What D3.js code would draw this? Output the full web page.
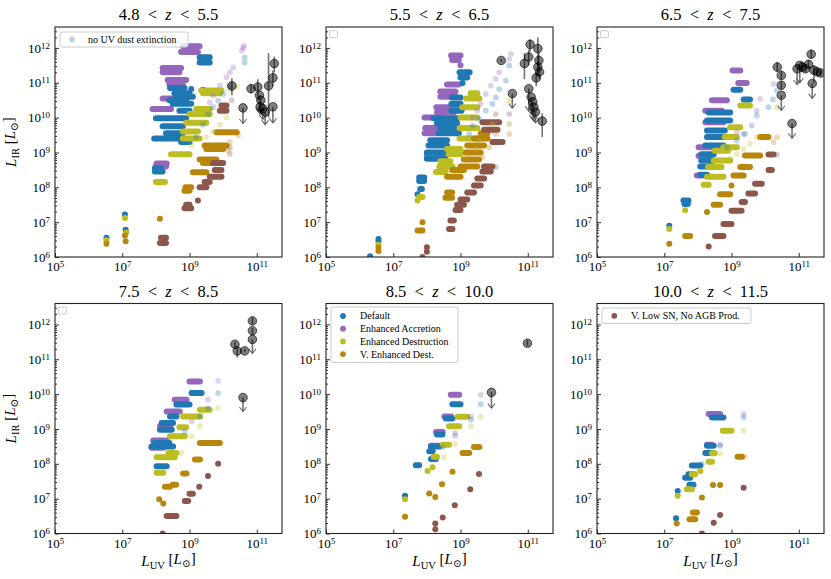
<!DOCTYPE html>
<html>
<head>
<meta charset="utf-8">
<script src="https://cdn.jsdelivr.net/npm/d3@7"></script>
<style>
  body { margin: 0; background: #fff; }
  svg text { font-family: "Liberation Serif", "DejaVu Serif", serif; }
</style>
</head>
<body>
<div id="wrapper"></div>
<script>
// redshift bins, one per panel
const zLow  = ["4.8", "5.5", "6.5", "7.5", "8.5", "10.0"];
const zHigh = ["5.5", "6.5", "7.5", "8.5", "10.0", "11.5"];

// log10 tick positions
const xTicks = [5, 7, 9, 11];
const yTicks = [6, 7, 8, 9, 10, 11, 12];
const xDomain = [5, 11.75];
const yDomain = [6, 12.6];

const seriesNames = ["Default", "Enhanced Accretion", "Enhanced Destruction", "V. Enhanced Dest.", "V. Low SN, No AGB Prod."];

// model runs: [panel, log L_UV start, log L_UV end, log L_IR]
const defaultRuns = [
  [1,6.53,6.53,6.55],[1,7.08,7.08,7.22],[1,7.1,7.1,6.78],[1,7.97,8.2,8.45],[1,7.97,8.15,8.55],
  [1,8.42,8.85,10.85],[1,9.05,9.05,10.82],[1,9.4,9.4,10.8],[1,8.6,9.1,10.6],[1,8.5,9.05,10.4],
  [1,8.7,9.0,10.2],[1,8.0,8.9,9.98],[1,8.2,8.8,9.75],[1,8.3,8.8,9.55],[1,7.95,8.7,9.4],
  [1,8.75,9.0,9.3],[1,9.3,9.6,11.73],[1,9.3,9.6,11.58],[1,8.55,9.0,10.7],[1,8.4,8.9,10.5],
  [2,6.31,6.31,6.02],[2,6.56,6.56,6.52],[2,6.56,6.56,6.44],[2,7.77,7.92,8.28],[2,7.77,7.92,8.18],
  [2,7.72,7.72,7.8],[2,7.8,7.85,7.95],[2,8.0,8.55,8.82],[2,8.0,8.5,9.0],[2,8.05,8.6,9.2],
  [2,8.1,8.6,9.35],[2,8.35,8.95,9.55],[2,8.4,8.95,9.7],[2,8.3,8.9,9.84],[2,8.2,8.9,9.98],
  [2,8.73,9.03,10.2],[2,8.73,9.0,10.4],[2,8.75,9.0,10.58],[2,8.97,9.27,11.3],[2,9.0,9.2,11.15],
  [2,9.06,9.06,10.99],
  [3,7.15,7.15,6.9],[3,7.57,7.72,7.62],[3,7.6,7.7,7.52],[3,8.07,8.27,8.36],[3,8.07,8.47,8.6],
  [3,8.1,8.45,8.77],[3,8.1,8.47,8.95],[3,8.22,8.76,9.2],[3,8.27,8.86,9.44],[3,8.27,8.8,9.63],
  [3,8.27,8.96,9.92],[3,8.32,8.96,10.15],[3,9.06,9.26,10.8],[3,9.36,9.55,10.52],
  [4,8.02,8.32,7.93],[4,7.87,8.51,8.5],[4,7.95,8.4,8.6],[4,8.12,8.47,8.98],[4,8.17,8.51,9.17],
  [4,8.42,8.61,9.36],[4,8.61,9.0,9.7],[4,9.06,9.36,10.03],
  [5,7.35,7.35,7.08],[5,7.67,7.77,7.96],[5,8.07,8.17,8.36],[5,8.12,8.27,8.14],[5,8.12,8.37,8.5],
  [5,8.3,8.46,8.84],[5,8.56,8.76,9.3],[5,8.76,9.0,9.71],
  [6,7.35,7.35,6.44],[6,7.4,7.4,7.22],[6,7.62,7.77,7.6],[6,7.72,7.87,7.7],[6,7.75,7.87,7.4],
  [6,7.82,8.07,7.95],[6,8.22,8.47,8.31],[6,8.27,8.47,8.52],[6,8.42,8.76,9.33]
];

const accretionRuns = [
  [1,8.8,9.3,12.05],[1,8.75,9.25,11.88],[1,8.2,8.75,11.42],[1,8.2,8.7,11.3],[1,8.35,8.9,11.08],
  [1,8.4,8.8,10.95],[1,8.2,8.9,10.55],[1,7.9,8.45,10.25],[1,8.02,8.32,8.68],[1,8.0,8.3,8.6],
  [2,8.72,9.0,11.78],[2,8.75,8.95,11.65],[2,9.0,9.0,11.5],[2,8.6,8.95,10.95],[2,8.4,8.85,10.75],
  [2,8.4,8.85,10.6],[2,8.28,8.88,10.3],[2,8.3,8.8,10.15],[2,7.93,8.37,10.0],[2,7.95,8.3,9.7],
  [2,7.93,8.3,9.55],[2,8.0,8.58,8.95],[2,8.0,8.5,8.85],
  [3,9.03,9.26,11.35],[3,9.2,9.45,10.99],[3,8.42,8.86,10.5],[3,8.22,8.71,10.2],[3,8.22,8.76,9.87],
  [3,8.02,8.47,9.15],[3,8.02,8.4,8.9],[3,7.97,8.27,8.34],
  [4,7.87,8.22,8.46],[4,7.92,8.32,8.67],[4,8.12,8.42,9.08],[4,8.32,8.71,9.5],[4,8.56,8.91,9.84],
  [4,9.0,9.31,10.36],
  [5,8.12,8.37,8.52],[5,8.27,8.47,8.91],[5,8.52,8.72,9.36],[5,8.71,8.96,9.98],
  [6,8.32,8.66,9.43],[6,8.27,8.42,8.55]
];

const destructionRuns = [
  [1,6.53,6.53,6.48],[1,7.08,7.08,7.12],[1,7.12,7.12,6.7],[1,8.0,8.27,8.15],[1,8.45,9.0,8.95],
  [1,8.8,9.3,9.4],[1,8.8,9.25,9.6],[1,8.9,9.5,9.85],[1,9.0,9.6,10.1],[1,9.2,9.6,10.25],
  [1,9.35,9.95,10.78],[1,9.4,9.9,10.7],
  [2,6.56,6.56,6.35],[2,7.77,7.87,7.72],[2,7.72,7.72,7.62],[2,8.27,8.56,8.44],[2,8.37,8.76,8.6],
  [2,8.4,8.7,8.75],[2,8.65,9.0,8.95],[2,8.6,9.0,9.1],[2,8.97,9.56,9.4],[2,8.97,9.5,9.7],
  [2,9.0,9.5,10.0],[2,9.05,9.5,10.3],[2,9.17,9.56,10.55],[2,9.3,9.5,10.7],
  [3,7.15,7.15,6.8],[3,7.62,7.62,7.34],[3,8.17,8.32,8.07],[3,8.27,8.76,8.3],[3,8.3,8.7,8.58],
  [3,8.47,8.96,8.77],[3,8.5,8.9,9.05],[3,8.76,9.16,9.15],[3,8.8,9.16,9.44],[3,8.96,9.26,9.72],
  [3,9.26,9.55,10.35],
  [4,8.02,8.22,7.74],[4,8.02,8.56,8.19],[4,8.37,8.61,8.31],[4,8.42,8.86,8.79],[4,8.7,8.9,9.05],
  [4,8.81,9.31,9.36],[4,9.31,9.6,9.55],
  [5,7.35,7.35,6.98],[5,8.02,8.02,7.79],[5,8.17,8.17,7.9],[5,8.2,8.3,8.2],[5,8.47,8.66,8.55],
  [5,8.66,8.96,9.08],[5,8.91,9.2,9.35],
  [6,7.4,7.4,7.08],[6,7.67,7.82,7.27],[6,7.82,7.92,7.7],[6,8.07,8.07,7.79],[6,8.32,8.42,8.06],
  [6,8.42,8.5,8.3],[6,8.74,9.0,8.95]
];

const vEnhancedRuns = [
  [1,6.53,6.53,6.38],[1,7.08,7.08,6.62],[1,7.1,7.1,6.45],[1,8.12,8.12,7.1],[1,8.17,8.17,6.42],
  [1,8.88,9.05,8.0],[1,8.85,9.0,7.9],[1,9.1,9.5,8.43],[1,9.3,9.8,8.8],[1,9.4,9.9,8.7],
  [1,9.45,10.1,9.2],[1,9.5,10.0,9.1],[1,9.8,10.4,9.58],
  [2,6.56,6.56,6.17],[2,6.56,6.56,6.27],[2,7.72,7.87,6.76],[2,7.87,7.87,7.0],[2,8.6,8.75,7.85],
  [2,8.55,8.75,7.7],[2,8.6,9.0,8.3],[2,8.75,9.1,8.5],[2,9.0,9.5,8.6],[2,9.1,9.55,8.8],
  [2,9.15,9.6,9.0],[2,9.2,9.7,9.2],[2,9.4,9.8,9.4],[2,9.6,9.8,9.55],
  [3,7.15,7.15,6.38],[3,7.62,7.77,6.6],[3,8.27,8.27,7.29],[3,8.47,8.66,7.5],[3,8.66,8.96,7.8],
  [3,9.0,9.0,8.05],[3,9.06,9.36,8.34],[3,9.26,9.55,8.58],[3,9.4,9.85,8.91],[3,9.85,10.1,9.44],
  [4,8.1,8.1,6.98],[4,8.22,8.22,6.86],[4,8.27,8.42,7.34],[4,8.5,8.6,7.4],[4,8.81,8.91,7.72],
  [4,9.16,9.31,8.12],[4,9.31,9.9,8.6],
  [5,7.35,7.35,6.48],[5,8.07,8.07,7.15],[5,8.25,8.25,7.05],[5,8.45,8.45,7.41],[5,8.76,8.76,7.77],
  [5,9.06,9.26,8.31],[5,9.4,9.55,8.48],
  [6,7.37,7.37,6.29],[6,7.75,7.92,6.41],[6,7.85,7.97,6.6],[6,8.12,8.12,7.03],[6,8.45,8.45,7.39],
  [6,8.66,8.66,7.39],[6,9.18,9.31,8.2]
];

const lowSNRuns = [
  [1,8.12,8.3,6.4],[1,8.15,8.3,6.55],[1,8.85,9.05,7.4],[1,8.9,9.0,7.5],[1,9.25,9.25,7.62],
  [1,9.3,9.5,8.0],[1,9.45,9.6,8.15],[1,9.6,9.95,8.3],[1,9.75,9.95,8.5],[1,9.7,10.0,8.7],
  [1,9.9,10.1,10.2],[1,9.95,10.1,10.35],
  [2,7.87,7.87,6.0],[2,8.0,8.0,6.28],[2,8.0,8.0,6.15],[2,8.66,8.76,6.8],[2,8.7,8.8,7.05],
  [2,8.85,9.0,7.35],[2,8.9,9.1,7.5],[2,9.0,9.2,7.65],[2,9.2,9.4,7.85],[2,9.4,9.6,8.05],
  [2,9.5,9.7,8.25],[2,9.65,9.9,8.45],[2,9.7,9.95,8.6],[2,9.65,10.15,9.87],[2,9.7,10.1,9.65],
  [2,9.95,10.25,9.3],
  [3,8.32,8.32,6.3],[3,8.51,8.76,6.6],[3,8.76,9.0,6.95],[3,9.0,9.3,7.33],[3,9.3,9.4,7.58],
  [3,9.5,9.7,7.82],[3,9.7,9.9,8.1],[3,10.1,10.2,8.5],[3,10.1,10.25,8.94],
  [4,8.2,8.2,6.0],[4,8.32,8.61,6.5],[4,8.86,8.96,6.93],[4,9.0,9.1,7.14],[4,9.29,9.29,7.34],
  [4,9.55,9.55,7.65],[4,9.85,9.85,8.0],
  [5,8.25,8.25,6.29],[5,8.25,8.25,6.12],[5,8.47,8.47,6.46],[5,8.83,8.83,6.81],[5,9.29,9.29,7.27],
  [5,9.55,9.55,7.71],
  [6,8.12,8.12,6.0],[6,8.47,8.47,6.31],[6,8.66,8.66,6.53],[6,9.36,9.36,7.31]
];

// no UV dust extinction: [panel, series index, log L_UV, log L_IR]
const noDustPoints = [
  [1,1,10.55,11.92],[1,1,10.6,12.0],[1,1,10.62,12.06],[1,1,10.3,11.44],[1,1,10.2,11.3],[1,1,10.1,11.16],
  [1,1,9.9,10.92],[1,1,9.7,10.63],[1,1,9.6,10.44],
  [1,0,10.64,11.73],[1,0,10.64,11.58],[1,0,10.2,10.9],[1,0,10.0,10.68],[1,0,9.85,10.49],[1,0,9.7,10.3],
  [1,0,9.55,10.1],[1,0,9.4,9.8],[1,0,9.2,9.44],
  [1,2,10.4,10.89],[1,2,10.2,10.82],[1,2,10.1,10.0],[1,2,9.9,9.8],[1,2,9.7,9.6],[1,2,9.5,9.44],[1,2,9.06,9.2],
  [1,3,10.4,9.58],[1,3,10.45,9.5],[1,3,10.2,9.3],[1,3,10.15,9.06],
  [1,4,10.2,9.15],[1,4,10.2,8.96],[1,4,10.25,10.5],
  [2,1,10.5,11.83],[2,1,10.45,11.68],[2,1,10.15,11.3],[2,1,10.05,11.11],[2,1,9.9,10.92],[2,1,9.75,10.68],
  [2,1,9.6,10.39],[2,1,9.5,10.2],[2,1,9.36,10.0],
  [2,0,10.45,11.49],[2,0,10.35,11.06],[2,0,10.15,10.82],[2,0,10.05,10.58],[2,0,9.95,10.39],[2,0,9.75,10.2],
  [2,0,9.55,9.96],[2,0,9.36,9.77],[2,0,9.26,9.53],
  [2,2,10.45,10.49],[2,2,9.95,9.82],[2,2,9.55,9.34],[2,2,9.45,9.1],[2,2,9.2,8.9],
  [2,3,10.45,9.82],[2,3,10.45,9.53],[2,3,10.05,9.53],[2,3,9.85,9.15],[2,3,9.65,8.87],
  [2,4,10.05,10.1],[2,4,10.05,8.58],[2,4,10.45,10.1],
  [3,1,10.25,10.97],[3,1,9.85,10.54],[3,1,9.75,10.2],[3,1,9.36,9.53],[3,1,9.16,9.58],
  [3,0,10.35,10.78],[3,0,10.23,10.52],[3,0,10.1,10.3],[3,0,9.75,10.06],[3,0,9.6,9.77],[3,0,9.4,9.53],
  [3,0,9.16,9.34],[3,0,8.86,9.15],
  [3,2,10.35,10.3],[3,2,9.75,9.44],[3,2,9.55,9.25],[3,2,9.36,9.1],[3,2,9.16,8.96],[3,2,8.96,8.82],
  [3,3,10.35,9.44],[3,3,10.25,9.3],
  [3,4,10.35,8.94],
  [4,1,9.85,10.38],[4,1,9.55,9.84],[4,1,9.06,9.22],
  [4,0,9.85,10.03],[4,0,9.55,9.6],[4,0,9.31,9.36],[4,0,8.86,8.93],[4,0,8.51,8.5],
  [4,2,9.85,9.6],[4,2,9.31,9.08],[4,2,9.06,8.79],[4,2,8.76,8.31],
  [4,3,9.9,8.6],
  [5,1,9.6,9.98],[5,1,9.31,9.36],[5,1,8.84,8.89],
  [5,0,9.6,9.71],[5,0,9.31,9.27],[5,0,8.84,8.81],[5,0,8.47,8.48],
  [5,2,9.6,9.36],[5,2,9.31,9.08],[5,2,8.84,8.57],[5,2,8.5,8.19],
  [5,3,9.6,8.48],
  [6,1,9.36,9.43],[6,1,8.66,8.55],
  [6,0,9.36,9.33],[6,0,8.66,8.52],[6,0,8.12,8.0],
  [6,2,9.36,8.95],[6,2,8.66,8.3],
  [6,3,9.39,8.2]
];

// observed galaxies: [panel, log L_UV, log L_IR, low, high, upper limit]
const observed = [
  [1,10.26,10.91,10.64,11.13,0],[1,10.59,10.28,9.83,10.28,1],[1,10.83,10.83,10.7,10.95,0],
  [1,11.03,10.88,10.6,11.1,0],[1,11.08,10.64,10.15,10.64,1],[1,11.12,10.5,10.1,10.5,1],
  [1,11.1,10.31,10.1,10.31,1],[1,11.18,10.26,9.95,10.26,1],[1,11.25,10.16,9.8,10.16,1],
  [1,11.35,10.91,10.0,11.85,0],[1,11.52,11.55,11.3,11.75,0],[1,11.48,11.14,10.9,11.35,0],
  [1,11.48,10.31,9.85,10.31,1],
  [2,10.21,11.64,11.6,11.68,0],[2,11.07,12.1,11.9,12.25,0],[2,10.9,11.55,11.1,11.85,0],
  [2,11.03,11.74,11.5,11.95,0],[2,11.3,11.98,11.2,12.3,0],[2,11.33,11.64,11.4,11.85,0],
  [2,11.3,11.45,11.2,11.6,0],[2,11.35,11.31,11.1,11.5,0],[2,11.25,11.14,10.9,11.3,0],
  [2,10.54,10.69,10.27,10.69,1],[2,11.03,10.83,10.2,10.83,1],[2,11.1,10.59,10.1,10.59,1],
  [2,11.15,10.45,9.95,10.45,1],[2,11.18,10.3,9.9,10.3,1],[2,11.23,10.16,9.85,10.16,1],
  [2,11.43,9.9,9.44,10.12,0],
  [3,10.36,11.45,11.3,11.6,0],[3,10.48,11.21,11.1,11.35,0],[3,10.48,10.93,10.8,11.05,0],
  [3,10.48,10.64,10.21,10.64,1],[3,10.8,9.83,9.41,9.83,1],[3,10.95,11.4,10.95,11.4,1],
  [3,11.03,11.5,11.0,11.5,1],[3,11.1,11.45,11.3,11.6,0],[3,11.2,11.4,11.3,11.5,0],
  [3,11.29,11.53,11.4,11.65,0],[3,11.37,11.82,11.7,11.95,0],[3,11.45,11.36,11.0,11.5,0],
  [3,11.55,11.31,11.2,11.4,0],[3,11.65,11.28,11.2,11.35,0],[3,11.4,10.98,10.55,10.98,1],
  [4,10.35,11.43,11.35,11.5,0],[4,10.42,11.24,11.05,11.35,0],[4,10.64,11.24,11.2,11.3,0],
  [4,10.87,12.1,12.0,12.2,0],[4,10.87,11.82,11.7,11.9,0],[4,10.87,11.57,11.17,11.57,1],
  [4,10.59,9.9,9.5,9.9,1],
  [5,10.99,11.46,11.38,11.55,0],[5,9.92,10.05,9.6,10.05,1]
];

const colors = ["#1f77b4", "#9467bd", "#bcbd22", "#b8860b", "#8c564b"];
const series = [
  { idx: 1, runs: accretionRuns },
  { idx: 0, runs: defaultRuns },
  { idx: 2, runs: destructionRuns },
  { idx: 3, runs: vEnhancedRuns },
  { idx: 4, runs: lowSNRuns }
];

const dimension = {
  width: 831,
  height: 579,
  panelWidth: 227,
  panelHeight: 230,
  cols: [55, 326, 597],
  rows: [27, 303.5]
};

const svg = d3.select("#wrapper").append("svg")
  .attr("width", dimension.width)
  .attr("height", dimension.height);

const xScaler = d3.scaleLog()
  .domain(xDomain.map(v => 10 ** v))
  .range([0, dimension.panelWidth]);
const yScaler = d3.scaleLog()
  .domain(yDomain.map(v => 10 ** v))
  .range([dimension.panelHeight, 0]);

const yMinor = [];
yTicks.forEach(p => d3.range(2, 10).forEach(m => {
  const v = m * 10 ** p;
  if (v <= 10 ** yDomain[1]) yMinor.push(v);
}));

function powerLabels(sel) {
  sel.attr("font-family", null).attr("font-size", null);
  sel.selectAll("text").each(function(d) {
    const t = d3.select(this);
    t.text(null).attr("fill", "#000").attr("font-size", "13px");
    t.append("tspan").text("10");
    t.append("tspan").attr("dy", "-0.45em").attr("font-size", "9px").text(Math.round(Math.log10(d)));
  });
}

function lumLabel(t, sub) {
  t.append("tspan").attr("font-style", "italic").text("L");
  t.append("tspan").attr("font-size", "0.7em").attr("dy", "0.3em").text(sub);
  t.append("tspan").attr("dy", "-0.3em").text(" [");
  t.append("tspan").attr("font-style", "italic").text("L");
  t.append("tspan").attr("font-size", "0.7em").attr("dy", "0.3em").text("\u2299");
  t.append("tspan").attr("dy", "-0.3em").text("]");
}

for (let i = 0; i < 6; i++) {
  const p = i + 1;
  const col = i % 3, row = Math.floor(i / 3);
  const bounded = svg.append("g")
    .attr("transform", `translate(${dimension.cols[col]},${dimension.rows[row]})`);

  bounded.append("clipPath").attr("id", `clip${p}`)
    .append("rect").attr("width", dimension.panelWidth).attr("height", dimension.panelHeight);

  const plot = bounded.append("g").attr("clip-path", `url(#clip${p})`);

  // simulated galaxies
  series.forEach(s => {
    plot.append("g").selectAll("path")
      .data(s.runs.filter(d => d[0] === p))
      .join("path")
      .attr("d", d => {
        const yy = yScaler(10 ** d[3]);
        return `M${xScaler(10 ** d[1])},${yy}L${xScaler(10 ** d[2]) + 0.01},${yy}`;
      })
      .attr("fill", "none")
      .attr("stroke", colors[s.idx])
      .attr("stroke-width", 6)
      .attr("stroke-linecap", "round");
  });

  // without dust extinction
  plot.append("g").selectAll("circle")
    .data(noDustPoints.filter(d => d[0] === p))
    .join("circle")
    .attr("cx", d => xScaler(10 ** d[2]))
    .attr("cy", d => yScaler(10 ** d[3]))
    .attr("r", 2.9)
    .attr("fill", d => colors[d[1]])
    .attr("fill-opacity", 0.3);

  // observations
  const obs = observed.filter(d => d[0] === p);
  const obsG = plot.append("g");
  obsG.selectAll("line")
    .data(obs)
    .join("line")
    .attr("x1", d => xScaler(10 ** d[1]))
    .attr("x2", d => xScaler(10 ** d[1]))
    .attr("y1", d => yScaler(10 ** d[3]))
    .attr("y2", d => yScaler(10 ** d[4]))
    .attr("stroke", "#444")
    .attr("stroke-opacity", 0.75)
    .attr("stroke-width", 1.6);
  obsG.selectAll("path")
    .data(obs.filter(d => d[5] === 1))
    .join("path")
    .attr("d", d => {
      const cx = xScaler(10 ** d[1]), cy = yScaler(10 ** d[3]);
      return `M${cx - 3.6},${cy - 4.5}L${cx},${cy}L${cx + 3.6},${cy - 4.5}`;
    })
    .attr("fill", "none")
    .attr("stroke", "#555")
    .attr("stroke-opacity", 0.85)
    .attr("stroke-width", 1.1);
  obsG.selectAll("circle")
    .data(obs)
    .join("circle")
    .attr("cx", d => xScaler(10 ** d[1]))
    .attr("cy", d => yScaler(10 ** d[2]))
    .attr("r", 4.3)
    .attr("fill", "#000")
    .attr("fill-opacity", 0.5)
    .attr("stroke", "#000")
    .attr("stroke-opacity", 0.6)
    .attr("stroke-width", 1);

  // axes
  bounded.append("g")
    .attr("transform", `translate(0,${dimension.panelHeight})`)
    .call(d3.axisBottom(xScaler).tickValues(xTicks.map(v => 10 ** v)).tickSize(-4).tickPadding(5))
    .call(g => g.select(".domain").remove())
    .call(powerLabels);

  bounded.append("g")
    .call(d3.axisLeft(yScaler).tickValues(yTicks.map(v => 10 ** v)).tickSize(-4).tickPadding(5))
    .call(g => g.select(".domain").remove())
    .call(powerLabels);

  bounded.append("g")
    .call(d3.axisLeft(yScaler).tickValues(yMinor).tickSize(-2).tickFormat(""))
    .call(g => g.select(".domain").remove());

  bounded.selectAll(".tick line").attr("stroke", "#000").attr("stroke-width", 0.8);

  // frame
  bounded.append("rect")
    .attr("width", dimension.panelWidth)
    .attr("height", dimension.panelHeight)
    .attr("fill", "none")
    .attr("stroke", "#222")
    .attr("stroke-width", 1.1);

  // title
  const title = bounded.append("text")
    .attr("x", dimension.panelWidth / 2)
    .attr("y", -7)
    .attr("text-anchor", "middle")
    .attr("font-size", "16.5px")
    .attr("fill", "#000");
  title.append("tspan").text(zLow[i] + "\u2002<\u2002");
  title.append("tspan").attr("font-style", "italic").text("z");
  title.append("tspan").text("\u2002<\u2002" + zHigh[i]);

  // legends
  const legend = bounded.append("g").attr("font-size", "10px");
  if (p === 1) {
    legend.append("rect").attr("x", 5).attr("y", 5).attr("width", 128).attr("height", 15)
      .attr("rx", 2).attr("fill", "#fff").attr("fill-opacity", 0.8).attr("stroke", "#ccc");
    legend.append("circle").attr("cx", 17).attr("cy", 12.5).attr("r", 2.9)
      .attr("fill", colors[0]).attr("fill-opacity", 0.3);
    legend.append("text").attr("x", 33).attr("y", 15.9).text("no UV dust extinction");
  } else if (p === 5) {
    legend.append("rect").attr("x", 5).attr("y", 3.5).attr("width", 127).attr("height", 55.5)
      .attr("rx", 2).attr("fill", "#fff").attr("fill-opacity", 0.8).attr("stroke", "#ccc");
    seriesNames.slice(0, 4).forEach((name, k) => {
      legend.append("circle").attr("cx", 17).attr("cy", 12.5 + k * 12.7).attr("r", 2.9).attr("fill", colors[k]);
      legend.append("text").attr("x", 34).attr("y", 15.9 + k * 12.7).text(name);
    });
  } else if (p === 6) {
    legend.append("rect").attr("x", 5).attr("y", 4.5).attr("width", 149).attr("height", 15.5)
      .attr("rx", 2).attr("fill", "#fff").attr("fill-opacity", 0.8).attr("stroke", "#ccc");
    legend.append("circle").attr("cx", 17.3).attr("cy", 12.3).attr("r", 2.9).attr("fill", colors[4]);
    legend.append("text").attr("x", 34).attr("y", 15.7).text(seriesNames[4]);
  } else {
    legend.append("rect").attr("x", 3.5).attr("y", 3.7).attr("width", 8).attr("height", 7)
      .attr("rx", 1.5).attr("fill", "#fff").attr("stroke", "#ccc");
  }

  // axis labels
  if (col === 0) {
    const yl = bounded.append("text")
      .attr("transform", `translate(-39,${dimension.panelHeight / 2}) rotate(-90)`)
      .attr("text-anchor", "middle")
      .attr("font-size", "15px");
    lumLabel(yl, "IR");
  }
  if (row === 1) {
    const xl = bounded.append("text")
      .attr("x", dimension.panelWidth / 2)
      .attr("y", dimension.panelHeight + 32)
      .attr("text-anchor", "middle")
      .attr("font-size", "15px");
    lumLabel(xl, "UV");
  }
}
</script>
</body>
</html>
